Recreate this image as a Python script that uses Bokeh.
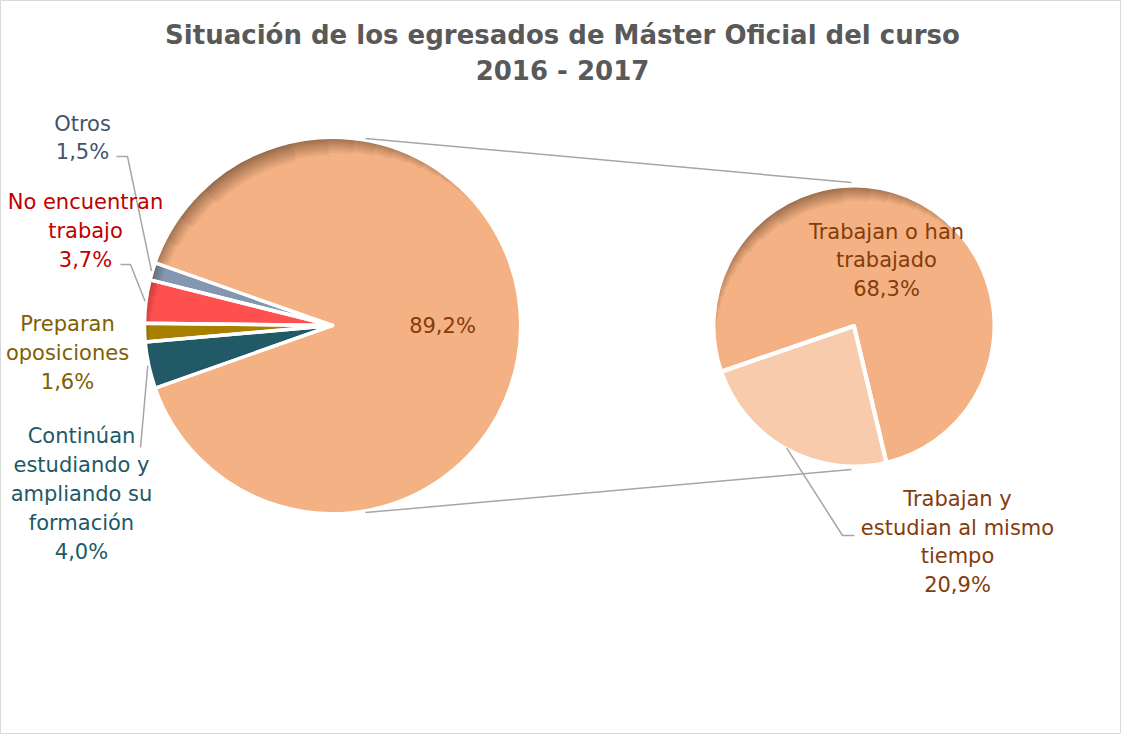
import numpy as np
from bokeh.plotting import figure
from bokeh.models import Range1d
from bokeh.core.properties import value
from bokeh.embed import file_html
from bokeh.resources import INLINE

# ---------------- data ----------------
title_text = "Situación de los egresados de Máster Oficial del curso\n2016 - 2017"
main_labels = ["Otros", "No encuentran\ntrabajo", "Preparan\noposiciones",
               "Continúan\nestudiando y\nampliando su\nformación"]
main_values = [1.5, 3.7, 1.6, 4.0]
sec_labels = ["Trabajan o han\ntrabajado", "Trabajan y\nestudian al mismo\ntiempo"]
sec_values = [68.3, 20.9]

# ---------------- styles ----------------
main_colors = ["#8497B0", "#FF5050", "#A88000", "#215967"]
main_text_colors = ["#44546A", "#C00000", "#7F6000", "#215967"]
big_color = "#F4B183"
sec_colors = ["#F4B183", "#F8CBAD"]
brown = "#843C0C"
FONT = value("DejaVu Sans")

W, H = 1121, 734


def Y(py):
    return 742 - py


p = figure(width=W, height=H, output_backend="svg", toolbar_location=None,
           x_range=Range1d(8, 8 + W), y_range=Range1d(0, H), min_border=0)
p.axis.visible = False
p.grid.visible = False
p.outline_line_color = "#D9D9D9"
p.background_fill_color = "white"
p.border_fill_color = "white"

# pie geometry
c1x, c1y, R1 = 340.0, Y(333.0), 188.0
c2x, c2y, R2 = 861.5, Y(333.5), 140.5

small_total = sum(main_values)
big_value = sum(sec_values)
small_span = small_total * 3.6
a = 180 - small_span / 2
m_starts, m_ends = [], []
for v in main_values:
    m_starts.append(a)
    a += v * 3.6
    m_ends.append(a)
big_start, big_end = 180 + small_span / 2, 180 - small_span / 2 + 360

sec_rot = 199.0
sec_span_light = sec_values[1] / big_value * 360
s_starts = [sec_rot + sec_span_light, sec_rot]
s_ends = [sec_rot + 360, sec_rot + sec_span_light]

rad = np.radians

# slices
p.wedge(x=c1x, y=c1y, radius=R1, start_angle=rad(big_start), end_angle=rad(big_end),
        fill_color=big_color, line_color=None)
p.wedge(x=[c1x] * 4, y=[c1y] * 4, radius=R1, start_angle=rad(np.array(m_starts)),
        end_angle=rad(np.array(m_ends)), fill_color=main_colors, line_color=None)
p.wedge(x=[c2x] * 2, y=[c2y] * 2, radius=R2, start_angle=rad(np.array(s_starts)),
        end_angle=rad(np.array(s_ends)), fill_color=sec_colors, line_color=None)


def rim(cx, cy, r, phi, Wd=20, K=14, alpha=0.055, color="#3d1f0a"):
    for k in range(1, K + 1):
        d = Wd * (k / K) ** 1.6
        half = np.degrees(np.arccos((k - 0.5) / K))
        p.annular_wedge(x=cx, y=cy, inner_radius=r - d, outer_radius=r,
                        start_angle=rad(phi - half), end_angle=rad(phi + half),
                        fill_color=color, fill_alpha=alpha, line_color=None)


rim(c1x, c1y, R1, 118)
rim(c2x, c2y, R2, 110, Wd=17)

# white borders
p.wedge(x=c1x, y=c1y, radius=R1, start_angle=rad(big_start), end_angle=rad(big_end),
        fill_alpha=0, line_color="white", line_width=3, line_join="round")
p.wedge(x=[c1x] * 4, y=[c1y] * 4, radius=R1, start_angle=rad(np.array(m_starts)),
        end_angle=rad(np.array(m_ends)), fill_alpha=0, line_color="white",
        line_width=3.5, line_join="round")
p.wedge(x=[c2x] * 2, y=[c2y] * 2, radius=R2, start_angle=rad(np.array(s_starts)),
        end_angle=rad(np.array(s_ends)), fill_alpha=0, line_color="white",
        line_width=4, line_join="round")

# connector lines between the pies
LC = "#A6A6A6"
for ang1, ang2 in [(80, 91), (-80, -91)]:
    p.line(x=[c1x + (R1 + 2) * np.cos(rad(ang1)), c2x + (R2 + 3) * np.cos(rad(ang2))],
           y=[c1y + (R1 + 2) * np.sin(rad(ang1)), c2y + (R2 + 3) * np.sin(rad(ang2))],
           line_color=LC, line_width=1.5)


def edge_pt(cx, cy, r, ang):
    return cx + r * np.cos(rad(ang)), cy + r * np.sin(rad(ang))


# leader lines
m_mids = [(s + e) / 2 for s, e in zip(m_starts, m_ends)]
leaders = {0: [(135, 164), (124, 164)], 1: [(138, 272), (128, 272)], 3: [(148, 455)]}
for i, pts in leaders.items():
    ex, ey = edge_pt(c1x, c1y, R1 + 1, m_mids[i])
    xs = [ex] + [q[0] for q in pts]
    ys = [ey] + [Y(q[1]) for q in pts]
    p.line(x=xs, y=ys, line_color=LC, line_width=1.5)
s_mid_light = (s_starts[1] + s_ends[1]) / 2
ex, ey = edge_pt(c2x, c2y, R2 - 1, s_mid_light)
p.line(x=[ex, 850, 862], y=[ey, Y(543), Y(543)], line_color=LC, line_width=1.5)


# labels
def fmt(v):
    return f"{v:.1f}".replace(".", ",") + "%"


main_label_pos = [(90, 145.5), (93, 238.5), (75, 360.5), (89, 501.5)]
p.text(x=[q[0] for q in main_label_pos], y=[Y(q[1]) for q in main_label_pos],
       text=[f"{l}\n{fmt(v)}" for l, v in zip(main_labels, main_values)],
       text_color=main_text_colors, text_font=FONT, text_font_size="21px",
       text_align="center", text_baseline="middle")
p.text(x=[450], y=[Y(333)], text=[fmt(big_value)], text_color=brown, text_font=FONT,
       text_font_size="21px", text_align="center", text_baseline="middle")
sec_label_pos = [(894, 268), (965, 549.5)]
p.text(x=[q[0] for q in sec_label_pos], y=[Y(q[1]) for q in sec_label_pos],
       text=[f"{l}\n{fmt(v)}" for l, v in zip(sec_labels, sec_values)],
       text_color=brown, text_font=FONT, text_font_size="21px",
       text_align="center", text_baseline="middle")

# title
p.text(x=[570], y=[Y(60.5)], text=[title_text], text_color="#595959", text_font=FONT,
       text_font_size="26px", text_font_style="bold", text_align="center",
       text_baseline="middle")

open("out.html", "w").write(file_html(p, INLINE))
